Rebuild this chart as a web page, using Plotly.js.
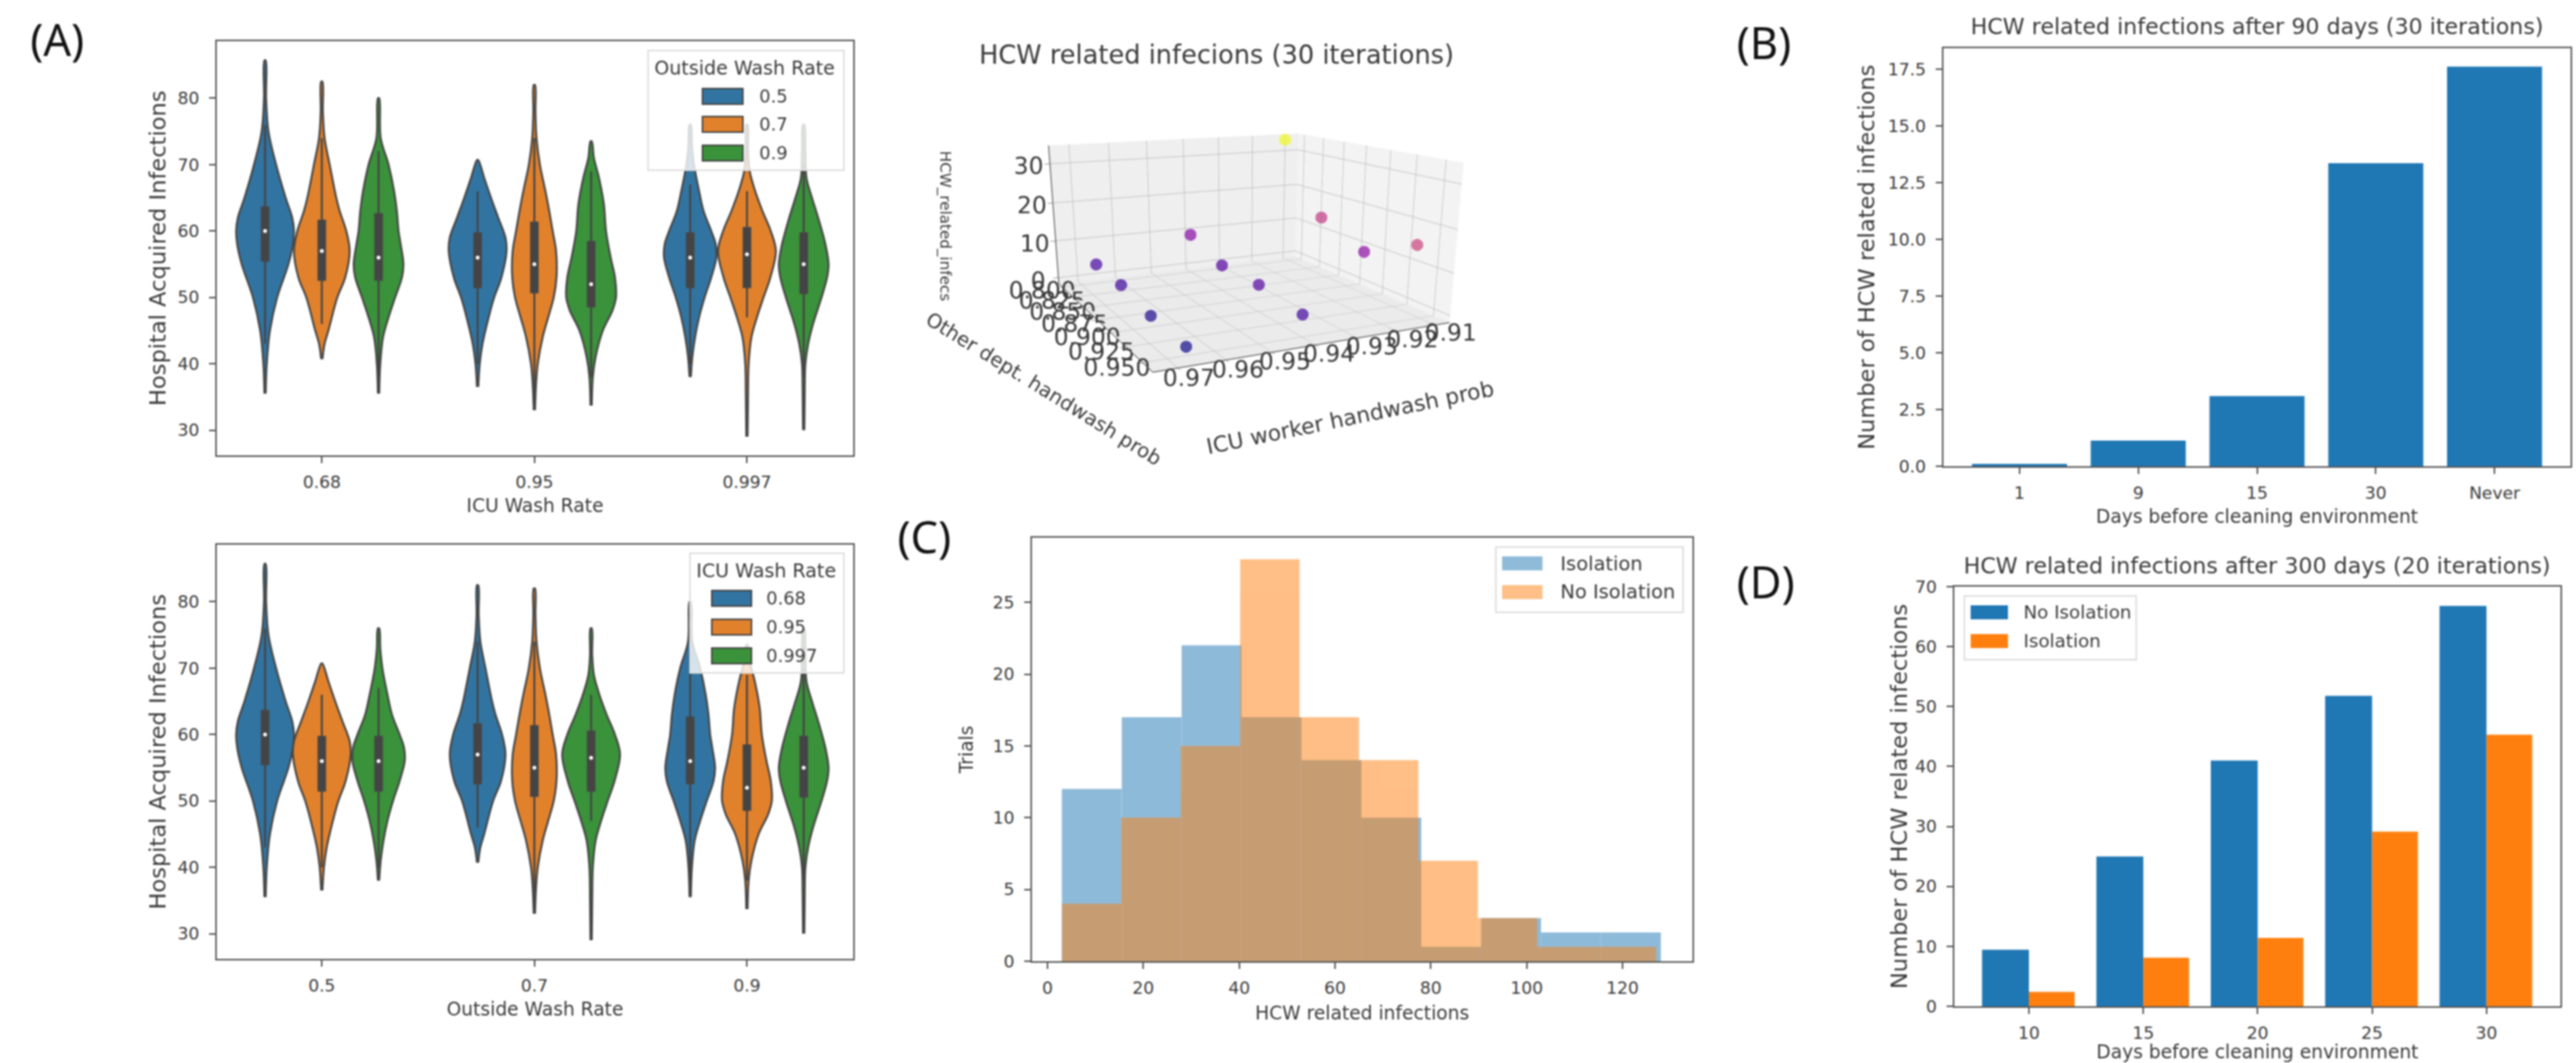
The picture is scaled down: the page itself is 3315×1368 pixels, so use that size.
<!DOCTYPE html>
<html>
<head>
<meta charset="utf-8">
<script src="https://cdn.plot.ly/plotly-3.0.1.min.js"></script>
<style>html,body{margin:0;padding:0;background:#fff;overflow:hidden}#chart{width:3315px;height:1368px;filter:blur(0.8px)}</style>
</head>
<body>
<div id="chart"></div>
<script>
// ---------- (A) violin profiles: value along y, half width in category units ----------
const icuRates = ['0.68', '0.95', '0.997'];
const outsideRates = ['0.5', '0.7', '0.9'];

const a_y = [35.5, 40, 45, 50, 55, 58, 60, 62, 65, 70, 75, 80, 85.7];
const a_w = [.003, .008, .023, .057, .11, .131, .136, .128, .097, .052, .016, .005, .003];
const b_y = [40.7, 43, 45, 50, 53, 57, 60, 63, 65, 70, 74, 78, 82.5];
const b_w = [.003, .013, .031, .073, .11, .131, .115, .084, .068, .037, .013, .005, .003];
const c_y = [35.5, 40, 44, 47, 50, 53, 55, 58, 60, 63, 66, 70, 74, 80];
const c_w = [.003, .008, .021, .047, .078, .11, .117, .104, .094, .086, .073, .047, .010, .003];
const d_y = [36.5, 40, 43, 47, 50, 53, 57, 59, 62, 65, 68, 70.7];
const d_w = [.003, .010, .023, .052, .078, .112, .136, .131, .097, .063, .031, .003];
const e_y = [33, 37, 40, 44, 47, 50, 53, 57, 60, 63, 66, 70, 74, 78, 82];
const e_w = [.003, .008, .016, .039, .065, .091, .104, .102, .086, .070, .052, .026, .010, .005, .003];
const f_y = [33.7, 38, 41, 45, 48, 50, 53, 56, 60, 64, 68, 71, 73.5];
const f_w = [.003, .008, .021, .055, .100, .117, .112, .092, .070, .060, .037, .013, .003];
const g_y = [38, 41, 44, 47, 50, 53, 56, 58, 60, 63, 66, 70, 73, 76];
const g_w = [.003, .010, .023, .042, .068, .099, .123, .120, .099, .063, .042, .018, .008, .003];
const h_y = [29, 35, 40, 44, 47, 50, 53, 57, 60, 63, 66, 69, 72, 76];
const h_w = [.003, .005, .008, .021, .047, .078, .110, .136, .112, .073, .039, .013, .005, .003];
const i_y = [30, 36, 40, 43, 46, 50, 53, 55, 58, 62, 65, 68, 72, 76];
const i_w = [.003, .005, .008, .021, .044, .084, .110, .117, .102, .068, .039, .013, .008, .003];

// quartiles, medians and whiskers, same order as the profiles (a to i)
const violinQ1 = [55.4, 52.5, 52.5, 51.4, 50.6, 48.5, 51.4, 51.4, 50.5];
const violinQ3 = [63.7, 61.7, 62.7, 59.8, 61.4, 58.5, 59.8, 60.6, 59.8];
const violinMedian = [60, 57, 56, 56, 55, 52, 56, 56.5, 55];
const violinLow = [43, 46, 38, 40, 34, 38, 40, 47, 38];
const violinHigh = [76, 74, 72, 66, 74, 69, 67, 66, 70];

// ---------- (3D) ----------
const icuHand = [.966, .966, .966, .966, .94, .94, .94, .94, .912, .912, .912, .912];
const otherHand = [.95, .90, .85, .80, .95, .90, .85, .80, .95, .90, .85, .80];
const hcwInfecs = [0.3, 1, 3, 3.5, 3.5, 5, 5, 9, 16, 10, 15, 33.5];

// ---------- (B) ----------
const cleanDays90 = ['1', '9', '15', '30', 'Never'];
const hcw90 = [0.1, 1.13, 3.09, 13.36, 17.62];

// ---------- (C) ----------
const isoEdges = [3, 15.5, 28, 40.5, 53, 65.5, 78, 90.5, 103, 115.5, 128];
const isoCounts = [12, 17, 22, 17, 14, 10, 1, 3, 2, 2];
const noIsoEdges = [3, 15.4, 27.8, 40.2, 52.6, 65, 77.4, 89.8, 102.2, 114.6, 127];
const noIsoCounts = [4, 10, 15, 28, 17, 14, 7, 3, 1, 1];

// ---------- (D) ----------
const cleanDays300 = ['10', '15', '20', '25', '30'];
const hcw300NoIso = [9.43, 25, 41, 51.8, 66.8];
const hcw300Iso = [2.39, 8.1, 11.4, 29.15, 45.3];

// ---------- style ----------
const blue = '#1f77b4', orange = '#ff7f0e';
const vBlue = '#3274a1', vOrange = '#e1812c', vGreen = '#3a923a';
const ink = '#444444', text = '#3a3a3a', FONT = 'DejaVu Sans';
const W = 3315, H = 1368;
const fx = p => p / W, fy = p => 1 - p / H;
const plasma = [[0, '#0d0887'], [.1, '#41049d'], [.2, '#6a00a8'], [.3, '#8f0da4'], [.4, '#b12a90'], [.5, '#cc4778'],
  [.6, '#e16462'], [.7, '#f1844b'], [.8, '#fca636'], [.9, '#fcce25'], [1, '#f0f921']];

const profiles = [[a_y, a_w], [b_y, b_w], [c_y, c_w], [d_y, d_w], [e_y, e_w], [f_y, f_w], [g_y, g_w], [h_y, h_w], [i_y, i_w]];
const hueOffset = [-0.267, 0, 0.267];
const hueColor = [vBlue, vOrange, vGreen];

function violinPanel(xa, ya, swapped) {
  const out = [];
  const wx = [], wy = [], bx = [], by = [], mx = [], my = [];
  profiles.forEach((p, k) => {
    const row = Math.floor(k / 3), col = k % 3;
    const group = swapped ? col : row, hue = swapped ? row : col;
    const c = group + hueOffset[hue];
    const xs = p[0].map((_, j) => c - p[1][j]).concat(p[0].map((_, j) => c + p[1][j]).reverse());
    const ys = p[0].concat(p[0].slice().reverse());
    out.push({type: 'scatter', mode: 'lines', x: xs, y: ys, xaxis: xa, yaxis: ya, fill: 'toself',
      fillcolor: hueColor[hue], line: {color: ink, width: 2.5, shape: 'spline', smoothing: 1}, hoverinfo: 'skip', showlegend: false});
    wx.push(c, c, null); wy.push(violinLow[k], violinHigh[k], null);
    bx.push(c, c, null); by.push(violinQ1[k], violinQ3[k], null);
    mx.push(c); my.push(violinMedian[k]);
  });
  out.push({type: 'scatter', mode: 'lines', x: wx, y: wy, xaxis: xa, yaxis: ya, line: {color: ink, width: 2.5}, hoverinfo: 'skip', showlegend: false});
  out.push({type: 'scatter', mode: 'lines', x: bx, y: by, xaxis: xa, yaxis: ya, line: {color: ink, width: 11}, hoverinfo: 'skip', showlegend: false});
  out.push({type: 'scatter', mode: 'markers', x: mx, y: my, xaxis: xa, yaxis: ya, marker: {color: '#fff', size: 5}, hoverinfo: 'skip', showlegend: false});
  return out;
}

const mids = e => e.slice(0, -1).map((v, i) => (v + e[i + 1]) / 2);
const widths = e => e.slice(0, -1).map((v, i) => e[i + 1] - v);
const idx = a => a.map((_, i) => i);

const traces = [
  ...violinPanel('x', 'y', false),
  ...violinPanel('x2', 'y2', true),
  {type: 'scatter3d', mode: 'markers', x: icuHand, y: otherHand, z: hcwInfecs, scene: 'scene',
   marker: {size: 9, color: hcwInfecs, colorscale: plasma, cmin: 0, cmax: 33.5, opacity: 0.7, line: {width: 0}}, showlegend: false},
  {type: 'bar', x: idx(cleanDays90), y: hcw90, xaxis: 'x3', yaxis: 'y3', width: 0.8, marker: {color: blue}, showlegend: false},
  {type: 'bar', name: 'Isolation', x: mids(isoEdges), y: isoCounts, width: widths(isoEdges), xaxis: 'x4', yaxis: 'y4', marker: {color: blue}, opacity: 0.5, showlegend: false},
  {type: 'bar', name: 'No Isolation', x: mids(noIsoEdges), y: noIsoCounts, width: widths(noIsoEdges), xaxis: 'x4', yaxis: 'y4', marker: {color: orange}, opacity: 0.5, showlegend: false},
  {type: 'bar', name: 'No Isolation', x: idx(cleanDays300), y: hcw300NoIso, xaxis: 'x5', yaxis: 'y5', width: 0.41, offset: -0.41, marker: {color: blue}, showlegend: false},
  {type: 'bar', name: 'Isolation', x: idx(cleanDays300), y: hcw300Iso, xaxis: 'x5', yaxis: 'y5', width: 0.4, offset: 0, marker: {color: orange}, showlegend: false}
];

function axis(px0, px1, anchor, extra) {
  return Object.assign({domain: [fx(px0), fx(px1)], anchor, showgrid: false, zeroline: false, showline: true, mirror: true,
    linecolor: '#555', linewidth: 2, ticks: 'outside', ticklen: 8, tickwidth: 2, tickcolor: '#555',
    tickfont: {family: FONT, size: 22, color: text}}, extra);
}
function yaxis(py0, py1, anchor, extra) {
  return Object.assign({domain: [fy(py1), fy(py0)], anchor, showgrid: false, zeroline: false, showline: true, mirror: true,
    linecolor: '#555', linewidth: 2, ticks: 'outside', ticklen: 8, tickwidth: 2, tickcolor: '#555',
    tickfont: {family: FONT, size: 22, color: text}, ticklabelstandoff: 8}, extra);
}
const ttl = (t, size, standoff) => ({text: t, standoff, font: {family: FONT, size, color: text}});

// hand-placed annotation helper
const shapes = [], annotations = [];
function label(t, x, y, size, opts) {
  annotations.push(Object.assign({text: t, x: fx(x), y: fy(y), xref: 'paper', yref: 'paper', showarrow: false,
    xanchor: 'center', yanchor: 'middle', font: {family: FONT, size, color: text}}, opts || {}));
}
function rect(x0, y0, x1, y1, fill, line, lw) {
  shapes.push({type: 'rect', xref: 'paper', yref: 'paper', x0: fx(x0), x1: fx(x1), y0: fy(y0), y1: fy(y1),
    fillcolor: fill, line: {color: line || fill, width: lw === undefined ? 0 : lw}, layer: 'above'});
}
function legendBlock(box, title, titlePos, items, colors, swX0, swX1, swY, swH, textX, edge, size) {
  rect(box[0], box[1], box[2], box[3], 'rgba(255,255,255,0.8)', '#dddddd', 2);
  if (title) label(title, titlePos[0], titlePos[1], 24.5);
  items.forEach((t, i) => {
    rect(swX0, swY[i] - swH / 2, swX1, swY[i] + swH / 2, colors[i], edge ? ink : colors[i], edge ? 2 : 0);
    label(t, textX, swY[i], size, {xanchor: 'left'});
  });
}

legendBlock([834, 65, 1086, 219], 'Outside Wash Rate', [958, 87], outsideRates, hueColor, 904, 956, [124, 160, 197], 20, 975, true, 23);
legendBlock([888, 712, 1086, 866], 'ICU Wash Rate', [986, 735], icuRates, hueColor, 916, 967, [770, 807, 844], 20, 984, true, 23);
legendBlock([1925, 704, 2166, 788], null, null, ['Isolation', 'No Isolation'], ['rgba(31,119,180,0.5)', 'rgba(255,127,14,0.5)'], 1933, 1985, [725, 762], 18, 2006, false, 25);
legendBlock([2528, 767, 2749, 849], null, null, ['No Isolation', 'Isolation'], [blue, orange], 2536, 2584, [788, 825], 18, 2602, false, 23.5);

// panel letters
[['(A)', 73, 50], ['(B)', 2270, 54], ['(C)', 1189, 690], ['(D)', 2272, 748]].forEach(l =>
  annotations.push({text: l[0], x: fx(l[1]), y: fy(l[2]), xref: 'paper', yref: 'paper', showarrow: false,
    xanchor: 'center', yanchor: 'middle', font: {family: 'Noto Sans', size: 56, color: '#111'}}));

// panel titles
label('HCW related infecions (30 iterations)', 1565, 70, 33);
label('HCW related infections after 90 days (30 iterations)', 2904, 34, 28.5);
label('HCW related infections after 300 days (20 iterations)', 2904, 728, 28.5);
// 3D axis titles, tilted along their axes
label('ICU worker handwash prob', 1737, 537, 28, {textangle: -11.6});
label('Other dept. handwash prob', 1343, 500, 25.5, {textangle: 31.7});
label('HCW_related_infecs', 1217, 291, 19.5, {textangle: 90});

const violinY = {range: [26.2, 88.6], tickvals: [30, 40, 50, 60, 70, 80]};
const sceneAxis = (extra) => Object.assign({
  title: {text: ''},
  tickfont: {family: FONT, size: 19, color: text}, tickangle: 0, gridcolor: '#c4c4c4', gridwidth: 2,
  showbackground: true, zeroline: false, showline: true, linecolor: '#333', linewidth: 2,
  ticks: 'outside', ticklen: 6, tickcolor: '#333', showspikes: false}, extra);

const layout = {
  width: W, height: H, margin: {l: 0, r: 0, t: 0, b: 0}, autosize: false,
  paper_bgcolor: '#fff', plot_bgcolor: '#fff', barmode: 'overlay', showlegend: false, hovermode: false,
  xaxis: axis(279, 1098, 'y', {range: [-0.494, 2.5], tickvals: [0, 1, 2], ticktext: icuRates, title: ttl('ICU Wash Rate', 24, 10), ticklabelstandoff: 6}),
  yaxis: yaxis(53, 586, 'x', Object.assign({title: ttl('Hospital Acquired Infections', 29, 6)}, violinY)),
  xaxis2: axis(279, 1098, 'y2', {range: [-0.494, 2.5], tickvals: [0, 1, 2], ticktext: outsideRates, title: ttl('Outside Wash Rate', 24, 10), ticklabelstandoff: 6}),
  yaxis2: yaxis(701, 1234, 'x2', Object.assign({title: ttl('Hospital Acquired Infections', 29, 6)}, violinY)),
  xaxis3: axis(2501, 3308, 'y3', {range: [-0.64, 4.64], tickvals: idx(cleanDays90), ticktext: cleanDays90, title: ttl('Days before cleaning environment', 24, 10), ticklabelstandoff: 6}),
  yaxis3: yaxis(62, 600, 'x3', {range: [0, 18.43], tickvals: [0, 2.5, 5, 7.5, 10, 12.5, 15, 17.5], ticktext: ['0.0', '2.5', '5.0', '7.5', '10.0', '12.5', '15.0', '17.5'], title: ttl('Number of HCW related infections', 29, 8)}),
  xaxis4: axis(1328, 2178, 'y4', {range: [-3.24, 134.6], tickvals: [0, 20, 40, 60, 80, 100, 120], title: ttl('HCW related infections', 24, 12), ticklabelstandoff: 6}),
  yaxis4: yaxis(692, 1237, 'x4', {range: [0, 29.5], tickvals: [0, 5, 10, 15, 20, 25], title: ttl('Trials', 24, 18)}),
  xaxis5: axis(2515, 3295, 'y5', {range: [-0.652, 4.647], tickvals: idx(cleanDays300), ticktext: cleanDays300, title: ttl('Days before cleaning environment', 24, 10), ticklabelstandoff: 6}),
  yaxis5: yaxis(755, 1295, 'x5', {range: [0, 70], tickvals: [0, 10, 20, 30, 40, 50, 60, 70], title: ttl('Number of HCW related infections', 29, 1)}),
  scene: {
    domain: {x: [fx(1010), fx(2180)], y: [fy(900), fy(0)]},
    aspectmode: 'manual', aspectratio: {x: 1, y: 1, z: 0.5},
    camera: {eye: {x: 1.21, y: 2.51, z: 0.575}, center: {x: 0, y: 0, z: -0.425}, up: {x: 0, y: 0, z: 1}},
    xaxis: sceneAxis({range: [0.906, 0.975], tickvals: [.91, .92, .93, .94, .95, .96, .97], ticktext: ['0.91', '0.92', '0.93', '0.94', '0.95', '0.96', '0.97'], backgroundcolor: '#f3f3f3'}),
    yaxis: sceneAxis({range: [0.791, 0.964], tickvals: [.8, .825, .85, .875, .9, .925, .95], ticktext: ['0.800', '0.825', '0.850', '0.875', '0.900', '0.925', '0.950'], backgroundcolor: '#efefef'}),
    zaxis: sceneAxis({range: [-1.7, 34.6], tickvals: [0, 10, 20, 30], backgroundcolor: '#ebebeb'})
  },
  shapes, annotations
};

Plotly.newPlot('chart', traces, layout, {displayModeBar: false});
</script>
</body>
</html>
